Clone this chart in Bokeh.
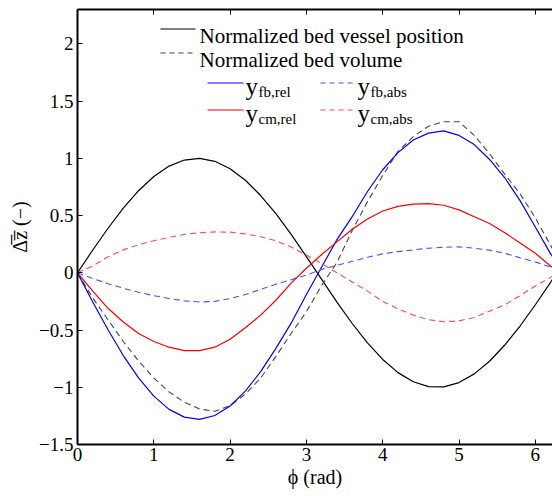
from bokeh.plotting import figure
from bokeh.models import Range1d, LinearAxis, FixedTicker, Label, Arrow
from bokeh.embed import file_html
from bokeh.resources import INLINE

# ---- data ----
phi = [0.0, 0.2, 0.4, 0.6, 0.8, 1.0, 1.2, 1.4, 1.6, 1.8, 2.0, 2.2, 2.4, 2.6, 2.8, 3.0,
       3.2, 3.4, 3.6, 3.8, 4.0, 4.2, 4.4, 4.6, 4.8, 5.0, 5.2, 5.4, 5.6, 5.8, 6.0, 6.2, 6.283]
vessel = [0.0, 0.199, 0.389, 0.565, 0.717, 0.841, 0.932, 0.985, 1.0, 0.974, 0.909, 0.808, 0.675,
          0.516, 0.335, 0.141, -0.058, -0.256, -0.443, -0.612, -0.757, -0.872, -0.952, -0.994,
          -0.996, -0.959, -0.883, -0.773, -0.631, -0.465, -0.279, -0.083, 0.0]
volume = [0.0, -0.22, -0.41, -0.6, -0.77, -0.92, -1.04, -1.13, -1.19, -1.21, -1.16, -1.06, -0.92,
          -0.73, -0.53, -0.34, -0.11, 0.09, 0.37, 0.62, 0.85, 1.06, 1.19, 1.28, 1.32, 1.32, 1.2,
          1.04, 0.86, 0.69, 0.48, 0.24, 0.14]
y_fb_rel = [0.0, -0.255, -0.498, -0.723, -0.918, -1.077, -1.193, -1.261, -1.28, -1.247, -1.164,
            -1.034, -0.864, -0.66, -0.44, -0.19, 0.05, 0.29, 0.49, 0.71, 0.9, 1.05, 1.16, 1.22,
            1.24, 1.2, 1.12, 0.99, 0.83, 0.63, 0.4, 0.165, 0.09]
y_cm_rel = [0.0, -0.16, -0.31, -0.43, -0.53, -0.6, -0.65, -0.68, -0.68, -0.65, -0.58, -0.48, -0.37,
            -0.24, -0.09, 0.04, 0.16, 0.27, 0.38, 0.47, 0.54, 0.58, 0.6, 0.605, 0.59, 0.55, 0.49,
            0.43, 0.35, 0.26, 0.17, 0.06, 0.02]
y_fb_abs = [0.0, -0.05, -0.095, -0.135, -0.17, -0.2, -0.225, -0.245, -0.255, -0.25, -0.225, -0.19,
            -0.145, -0.1, -0.06, -0.02, 0.03, 0.065, 0.1, 0.135, 0.165, 0.185, 0.2, 0.215, 0.223,
            0.226, 0.215, 0.198, 0.17, 0.132, 0.095, 0.05, 0.03]
y_cm_abs = [0.0, 0.06, 0.14, 0.2, 0.245, 0.28, 0.31, 0.335, 0.35, 0.357, 0.355, 0.34, 0.315, 0.28,
            0.225, 0.155, 0.08, 0.0, -0.08, -0.16, -0.25, -0.315, -0.37, -0.41, -0.428, -0.42,
            -0.39, -0.335, -0.28, -0.2, -0.115, -0.04, -0.01]

x_ticks = [0, 1, 2, 3, 4, 5, 6]
y_ticks = [-1.5, -1, -0.5, 0, 0.5, 1, 1.5, 2]
y_tick_labels = ["\u22121.5", "\u22121", "\u22120.5", "0", "0.5", "1", "1.5", "2"]
legend_names = ["Normalized bed vessel position", "Normalized bed volume"]
sub_names = ["fb,rel", "cm,rel", "fb,abs", "cm,abs"]

FONT = "Liberation Serif"
BLUE, RED = "#0000ff", "#ff0000"
BLUE_D, RED_D, GREY_D = "#4d4dff", "#ff4d4d", "#444444"

p = figure(width=552, height=496, output_backend="svg", toolbar_location=None,
           x_range=Range1d(0, 6.225), y_range=Range1d(-1.5, 2.3),
           min_border_left=77, min_border_right=0, min_border_top=9, min_border_bottom=52)
p.outline_line_color = None
p.xgrid.visible = False
p.ygrid.visible = False
p.background_fill_color = "white"
p.border_fill_color = "white"

bottom_axis = p.below[0]
left_axis = p.left[0]
top_axis = LinearAxis()
p.add_layout(top_axis, "above")

bottom_axis.axis_label = "\u03d5 (rad)"
left_axis.axis_label = "\u0394\u0305z\u0305 (\u2212)"

for ax in [bottom_axis, left_axis, top_axis]:
    ax.axis_line_width = 2
    ax.axis_line_color = "black"
    ax.major_tick_in = 5
    ax.major_tick_out = 0
    ax.minor_tick_in = 0
    ax.minor_tick_out = 0
    ax.major_tick_line_color = "black"
    ax.major_label_text_font = FONT
    ax.major_label_text_font_size = "19px"
    ax.major_label_text_color = "black"
    ax.axis_label_text_font = FONT
    ax.axis_label_text_font_size = "20px"
    ax.axis_label_text_font_style = "normal"
    ax.axis_label_text_color = "black"

bottom_axis.ticker = FixedTicker(ticks=x_ticks)
top_axis.ticker = FixedTicker(ticks=x_ticks)
top_axis.major_label_overrides = {t: "" for t in x_ticks}
top_axis.major_label_text_font_size = "0px"
top_axis.major_label_standoff = 0
bottom_axis.major_label_standoff = 3
bottom_axis.axis_label_standoff = 2
left_axis.ticker = FixedTicker(ticks=y_ticks)
left_axis.major_label_overrides = {t: s for t, s in zip(y_ticks, y_tick_labels)}
left_axis.major_label_standoff = 4
left_axis.axis_label_standoff = 5

p.line(phi, vessel, line_color="black", line_width=1.2)
p.line(phi, volume, line_color=GREY_D, line_width=1.1, line_dash="6 4")
p.line(phi, y_fb_rel, line_color=BLUE, line_width=1.2)
p.line(phi, y_cm_rel, line_color=RED, line_width=1.2)
p.line(phi, y_fb_abs, line_color=BLUE_D, line_width=1.1, line_dash="6 4")
p.line(phi, y_cm_abs, line_color=RED_D, line_width=1.1, line_dash="6 4")

# ---- legend, drawn by hand (MATLAB-like layout with subscripts) ----
samples = [(160, 195, 28.5, "black", "solid", 1.2), (160, 195, 52.5, GREY_D, "5 4", 1.1),
           (207, 243, 82.5, BLUE, "solid", 1.2), (207, 243, 109.5, RED, "solid", 1.2),
           (320, 355, 82.5, BLUE_D, "5 4", 1.1), (320, 355, 109.5, RED_D, "5 4", 1.1)]
for xs, xe, yy, col, dash, lw in samples:
    p.add_layout(Arrow(start=None, end=None, x_start=xs, y_start=yy, x_end=xe, y_end=yy,
                       start_units="canvas", end_units="canvas",
                       line_color=col, line_dash=dash, line_width=lw))

for txt, sy in zip(legend_names, [35, 59]):
    p.add_layout(Label(x=199, y=sy, x_units="canvas", y_units="canvas", text=txt,
                       text_font=FONT, text_font_size="21px", text_baseline="alphabetic",
                       text_color="black"))
for sx, sy in [(245, 86), (245, 113), (357, 86), (357, 113)]:
    p.add_layout(Label(x=sx, y=sy, x_units="canvas", y_units="canvas", text="y",
                       text_font=FONT, text_font_size="25px", text_baseline="alphabetic",
                       text_color="black"))
for txt, sx, sy in zip(sub_names, [258, 258, 370, 370], [91, 118, 91, 118]):
    p.add_layout(Label(x=sx, y=sy, x_units="canvas", y_units="canvas", text=txt,
                       text_font=FONT, text_font_size="15px", text_baseline="alphabetic",
                       text_color="black"))

open("out.html", "w").write(file_html(p, INLINE))
